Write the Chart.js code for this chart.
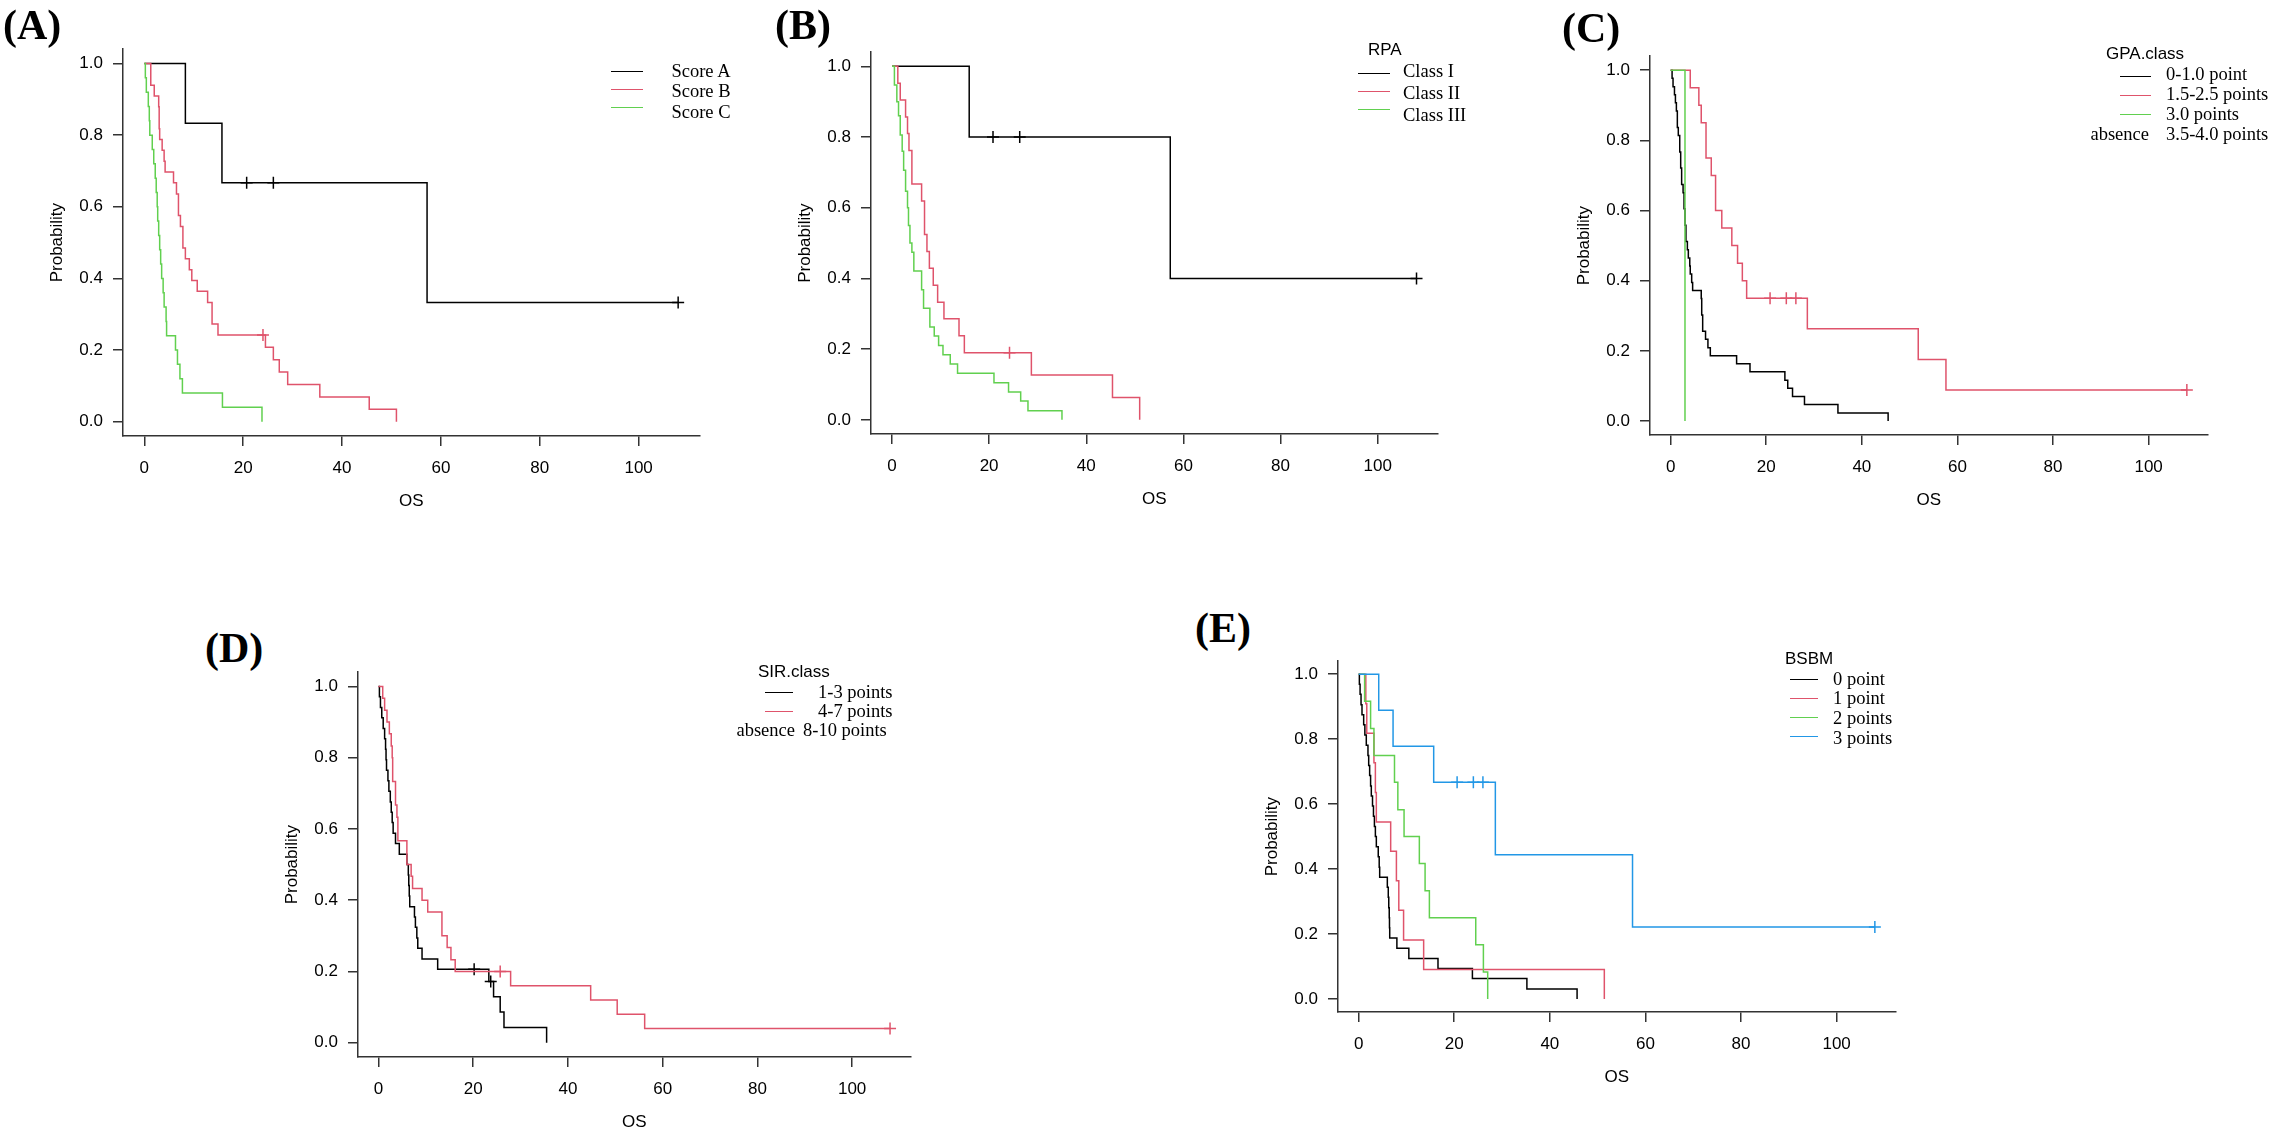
<!DOCTYPE html>
<html>
<head>
<meta charset="utf-8">
<script src="https://cdn.jsdelivr.net/npm/chart.js@4.4.1/dist/chart.umd.min.js"></script>
<style>
  body { margin: 0; background: #fff; width: 2278px; height: 1133px; position: relative; overflow: hidden; }
  canvas { position: absolute; }
  .lab { position: absolute; font: bold 42px/42px "Liberation Serif", serif; color: #000; }
  .leg { position: absolute; font: 18.5px/20px "Liberation Serif", serif; height: 20px; white-space: nowrap; color: #000; }
  .ttl { position: absolute; font: 17px/20px "Liberation Sans", sans-serif; height: 20px; white-space: nowrap; color: #000; }
  .ln { position: absolute; height: 0; border-top: 1.5px solid; }
</style>
</head>
<body>
<script>
// axes
const xTicks = [0, 20, 40, 60, 80, 100];
const yTicks = [0, 0.2, 0.4, 0.6, 0.8, 1.0];
const xLim = [-4.32, 112.32];
const yLim = [-0.04, 1.04];
const colors = ['#000000', '#DF536B', '#61D04F', '#2297E6'];

// (A) Score
const scoreNames = ['Score A', 'Score B', 'Score C'];
const scoreA_t = [8.3, 15.7, 57.2];
const scoreA_s = [0.833, 0.667, 0.333];
const scoreA_ct = [20.7, 26.1, 108];
const scoreA_cs = [0.667, 0.667, 0.333];
const scoreB_t = [1.3, 2.0, 2.9, 3.0, 3.1, 3.6, 4.0, 4.2, 5.9, 6.5, 6.9, 7.3, 7.8, 8.3, 9.1, 9.6, 10.7, 12.8, 13.7, 14.9, 24.5, 26.1, 27.3, 29.0, 35.5, 45.5, 51.0];
const scoreB_s = [0.939, 0.909, 0.879, 0.818, 0.788, 0.758, 0.727, 0.697, 0.667, 0.636, 0.576, 0.545, 0.485, 0.455, 0.424, 0.394, 0.364, 0.333, 0.273, 0.242, 0.208, 0.173, 0.139, 0.104, 0.069, 0.035, 0];
const scoreB_ct = [24.0];
const scoreB_cs = [0.242];
const scoreC_t = [0.2, 0.4, 0.8, 1.0, 1.1, 1.6, 1.9, 2.2, 2.4, 2.6, 2.7, 2.9, 3.1, 3.3, 3.5, 3.8, 4.0, 4.4, 4.5, 6.3, 6.7, 7.2, 7.7, 15.8, 23.8];
const scoreC_s = [0.96, 0.92, 0.88, 0.84, 0.80, 0.76, 0.72, 0.68, 0.64, 0.60, 0.56, 0.52, 0.48, 0.44, 0.40, 0.36, 0.32, 0.28, 0.24, 0.20, 0.16, 0.12, 0.08, 0.04, 0];

// (B) RPA
const rpaNames = ['Class I', 'Class II', 'Class III'];
const rpa1_t = [15.9, 57.3];
const rpa1_s = [0.8, 0.4];
const rpa1_ct = [20.8, 26.3, 108];
const rpa1_cs = [0.8, 0.8, 0.4];
const rpa2_t = [1.2, 1.7, 2.8, 3.2, 3.5, 4.1, 6.1, 6.7, 7.2, 7.7, 8.5, 9.4, 10.7, 13.8, 14.9, 28.7, 45.4, 51.0];
const rpa2_s = [0.952, 0.905, 0.857, 0.810, 0.762, 0.667, 0.619, 0.524, 0.476, 0.429, 0.381, 0.333, 0.286, 0.238, 0.190, 0.127, 0.063, 0];
const rpa2_ct = [24.2];
const rpa2_cs = [0.19];
const rpa3_t = [0.5, 1.0, 1.35, 1.7, 2.1, 2.4, 2.8, 3.2, 3.4, 3.7, 4.1, 4.5, 6.1, 6.5, 7.8, 8.7, 9.6, 10.5, 12.0, 13.5, 21.0, 24.0, 26.5, 28.0, 35.0];
const rpa3_s = [0.947, 0.9, 0.86, 0.806, 0.76, 0.706, 0.647, 0.6, 0.55, 0.5, 0.474, 0.421, 0.368, 0.316, 0.263, 0.237, 0.21, 0.184, 0.158, 0.132, 0.105, 0.079, 0.053, 0.026, 0];

// (C) GPA.class
const gpaNames = ['0-1.0 point', '1.5-2.5 points', '3.0 points', '3.5-4.0 points'];
const gpa1_t = [0.3, 0.5, 0.8, 1.0, 1.2, 1.4, 1.6, 1.9, 2.1, 2.3, 2.6, 2.8, 3.0, 3.2, 3.5, 3.7, 4.0, 4.1, 4.4, 4.6, 6.4, 6.5, 6.7, 7.3, 7.8, 8.3, 13.8, 16.6, 23.9, 24.5, 25.5, 28.0, 35.0, 45.5];
const gpa1_s = [0.977, 0.953, 0.93, 0.907, 0.884, 0.837, 0.814, 0.767, 0.721, 0.674, 0.651, 0.605, 0.558, 0.512, 0.488, 0.465, 0.442, 0.419, 0.395, 0.372, 0.349, 0.302, 0.256, 0.233, 0.209, 0.186, 0.163, 0.14, 0.116, 0.093, 0.07, 0.047, 0.023, 0];
const gpa2_t = [4.1, 5.9, 6.4, 7.4, 8.5, 9.4, 10.7, 12.8, 14.0, 15.0, 15.9, 28.6, 51.8, 57.6];
const gpa2_s = [0.95, 0.9, 0.85, 0.75, 0.7, 0.6, 0.55, 0.5, 0.45, 0.4, 0.35, 0.263, 0.175, 0.088];
const gpa2_ct = [20.8, 24.2, 26.2, 108];
const gpa2_cs = [0.35, 0.35, 0.35, 0.088];
const gpa3_t = [3.0];
const gpa3_s = [0];

// (D) SIR.class
const sirNames = ['1-3 points', '4-7 points', '8-10 points'];
const sir1_t = [0.2, 0.42, 0.7, 1.0, 1.3, 1.5, 1.6, 1.7, 2.0, 2.2, 2.5, 2.7, 2.9, 3.1, 3.6, 4.4, 6.0, 6.3, 6.4, 6.5, 6.6, 7.6, 7.8, 8.1, 8.3, 9.2, 12.5, 23.3, 24.3, 25.7, 26.5, 35.5];
const sir1_s = [0.971, 0.941, 0.912, 0.882, 0.853, 0.824, 0.794, 0.765, 0.735, 0.706, 0.676, 0.647, 0.618, 0.588, 0.559, 0.529, 0.5, 0.471, 0.441, 0.412, 0.382, 0.353, 0.324, 0.294, 0.265, 0.235, 0.206, 0.172, 0.129, 0.086, 0.043, 0];
const sir1_ct = [20.2, 23.7];
const sir1_cs = [0.206, 0.172];
const sir2_t = [0.9, 1.3, 1.8, 2.3, 2.7, 2.9, 3.0, 3.6, 3.9, 4.1, 6.0, 6.9, 7.2, 9.2, 10.4, 13.4, 14.5, 15.3, 16.2, 27.9, 44.8, 50.4, 56.2];
const sir2_s = [0.967, 0.933, 0.9, 0.867, 0.833, 0.8, 0.733, 0.667, 0.633, 0.567, 0.5, 0.467, 0.433, 0.4, 0.367, 0.3, 0.267, 0.233, 0.2, 0.16, 0.12, 0.08, 0.04];
const sir2_ct = [25.7, 108];
const sir2_cs = [0.2, 0.04];

// (E) BSBM
const bsbmNames = ['0 point', '1 point', '2 points', '3 points'];
const bsbm0_t = [0.15, 0.3, 0.5, 0.7, 1.05, 1.3, 1.6, 1.95, 2.1, 2.3, 2.5, 2.65, 2.9, 3.1, 3.3, 3.5, 3.7, 4.1, 4.3, 4.4, 6.0, 6.2, 6.3, 6.4, 6.45, 6.5, 8.0, 10.5, 16.6, 23.8, 35.2, 45.7];
const bsbm0_s = [0.969, 0.938, 0.906, 0.875, 0.844, 0.813, 0.781, 0.75, 0.719, 0.688, 0.656, 0.625, 0.594, 0.563, 0.531, 0.5, 0.469, 0.438, 0.406, 0.375, 0.344, 0.313, 0.281, 0.25, 0.219, 0.188, 0.156, 0.125, 0.094, 0.063, 0.031, 0];
const bsbm1_t = [1.5, 1.7, 3.2, 3.5, 3.7, 6.7, 7.9, 8.4, 9.4, 13.6, 51.4];
const bsbm1_s = [0.909, 0.818, 0.727, 0.636, 0.545, 0.455, 0.364, 0.273, 0.182, 0.091, 0];
const bsbm2_t = [1.25, 2.5, 3.2, 7.5, 8.2, 9.5, 12.7, 13.9, 14.8, 24.5, 26.1, 27.0];
const bsbm2_s = [0.917, 0.833, 0.75, 0.667, 0.583, 0.5, 0.417, 0.333, 0.25, 0.167, 0.083, 0];
const bsbm3_t = [4.2, 7.2, 15.7, 28.6, 57.3];
const bsbm3_s = [0.889, 0.778, 0.667, 0.444, 0.222];
const bsbm3_ct = [20.6, 24.0, 26.0, 108];
const bsbm3_cs = [0.667, 0.667, 0.667, 0.222];

Chart.defaults.font.family = '"Liberation Sans", Arial, sans-serif';
Chart.defaults.color = '#000';

const AXW = 76;   // width kept for the y axis
const AXH = 76;   // height kept for the x axis
const PAD = 6;
const axisColor = '#333';

// one km curve -> step line + censor crosses
function km(t, s, ct, cs, color, order) {
  ct = ct || [];
  cs = cs || [];
  const pts = [{ x: 0, y: 1 }];
  t.forEach((v, i) => pts.push({ x: v, y: s[i] }));
  if (ct.length && ct[ct.length - 1] > t[t.length - 1]) {
    pts.push({ x: ct[ct.length - 1], y: cs[cs.length - 1] });
  }
  const sets = [{
    data: pts, borderColor: color, borderWidth: 1.5, stepped: true,
    pointRadius: 0, fill: false, order: order
  }];
  if (ct.length) {
    sets.push({
      data: ct.map((v, i) => ({ x: v, y: cs[i] })), showLine: false,
      pointStyle: 'cross', pointRadius: 6, pointBorderColor: color,
      pointBorderWidth: 1.5, order: order
    });
  }
  return sets;
}

function panel(box, datasets) {
  const cv = document.createElement('canvas');
  cv.width = box.w + AXW + PAD;
  cv.height = box.h + AXH + PAD;
  cv.style.left = (box.x - AXW) + 'px';
  cv.style.top = (box.y - PAD) + 'px';
  document.body.appendChild(cv);
  const tickFont = { family: '"Liberation Sans", Arial, sans-serif', size: 17 };
  new Chart(cv, {
    type: 'line',
    data: { datasets },
    options: {
      responsive: false,
      animation: false,
      devicePixelRatio: 1,
      layout: { padding: { top: PAD, right: PAD, left: 0, bottom: 0 } },
      plugins: { legend: { display: false }, tooltip: { enabled: false } },
      scales: {
        x: {
          type: 'linear', min: xLim[0], max: xLim[1],
          afterBuildTicks: sc => { sc.ticks = xTicks.map(v => ({ value: v })); },
          afterFit: sc => { sc.height = AXH; },
          grid: { drawOnChartArea: false, drawTicks: true, tickLength: 10, color: axisColor, lineWidth: 1.5 },
          border: { display: true, color: axisColor, width: 1.5 },
          ticks: { font: tickFont, padding: 12, maxRotation: 0, autoSkip: false, callback: v => String(v) },
          title: { display: true, text: 'OS', font: tickFont, padding: 0 }
        },
        y: {
          type: 'linear', min: yLim[0], max: yLim[1],
          afterBuildTicks: sc => { sc.ticks = yTicks.map(v => ({ value: v })); },
          afterFit: sc => { sc.width = AXW; },
          grid: { drawOnChartArea: false, drawTicks: true, tickLength: 10, color: axisColor, lineWidth: 1.5 },
          border: { display: true, color: axisColor, width: 1.5 },
          ticks: { font: tickFont, padding: 10, autoSkip: false, callback: v => v.toFixed(1) },
          title: { display: true, text: 'Probability', font: tickFont, padding: 0 }
        }
      }
    }
  });
}

function text(str, x, y, cls, align) {
  const d = document.createElement('div');
  d.className = cls;
  d.textContent = str;
  d.style.left = x + 'px';
  d.style.top = (y - 10) + 'px';
  if (align === 'center') d.style.transform = 'translateX(-50%)';
  if (align === 'right') d.style.transform = 'translateX(-100%)';
  document.body.appendChild(d);
}
function line(x1, x2, y, color) {
  const d = document.createElement('div');
  d.className = 'ln';
  d.style.left = x1 + 'px';
  d.style.width = (x2 - x1) + 'px';
  d.style.top = y + 'px';
  d.style.borderTopColor = color;
  document.body.appendChild(d);
}
function label(str, x, y) {
  const d = document.createElement('div');
  d.className = 'lab';
  d.textContent = str;
  d.style.left = x + 'px';
  d.style.top = y + 'px';
  document.body.appendChild(d);
}

// (A)
panel({ x: 123, y: 35, w: 578, h: 401 }, [
  ...km(scoreA_t, scoreA_s, scoreA_ct, scoreA_cs, colors[0], 3),
  ...km(scoreB_t, scoreB_s, scoreB_ct, scoreB_cs, colors[1], 2),
  ...km(scoreC_t, scoreC_s, [], [], colors[2], 1)
]);
label('(A)', 3, 4);
[71, 89, 107].forEach((y, i) => line(611, 643, y, colors[i]));
[71, 91, 112].forEach((y, i) => text(scoreNames[i], 701, y, 'leg', 'center'));

// (B)
panel({ x: 871, y: 38, w: 568, h: 396 }, [
  ...km(rpa1_t, rpa1_s, rpa1_ct, rpa1_cs, colors[0], 3),
  ...km(rpa2_t, rpa2_s, rpa2_ct, rpa2_cs, colors[1], 2),
  ...km(rpa3_t, rpa3_s, [], [], colors[2], 1)
]);
label('(B)', 775, 4);
text('RPA', 1368, 50, 'ttl', 'left');
[73, 91, 109].forEach((y, i) => line(1358, 1390, y, colors[i]));
[71, 93, 115].forEach((y, i) => text(rpaNames[i], 1403, y, 'leg', 'left'));

// (C)
panel({ x: 1650, y: 42, w: 559, h: 393 }, [
  ...km(gpa1_t, gpa1_s, [], [], colors[0], 3),
  ...km(gpa2_t, gpa2_s, gpa2_ct, gpa2_cs, colors[1], 2),
  ...km(gpa3_t, gpa3_s, [], [], colors[2], 1)
]);
label('(C)', 1562, 7);
text('GPA.class', 2106, 54, 'ttl', 'left');
[76, 95, 114].forEach((y, i) => line(2120, 2151, y, colors[i]));
[74, 94, 114, 134].forEach((y, i) => text(gpaNames[i], 2166, y, 'leg', 'left'));
text('absence', 2149, 134, 'leg', 'right');

// (D)
panel({ x: 358, y: 658, w: 554, h: 399 }, [
  ...km(sir1_t, sir1_s, sir1_ct, sir1_cs, colors[0], 2),
  ...km(sir2_t, sir2_s, sir2_ct, sir2_cs, colors[1], 1)
]);
label('(D)', 205, 627);
text('SIR.class', 758, 672, 'ttl', 'left');
[692, 711].forEach((y, i) => line(765, 793, y, colors[i]));
text(sirNames[0], 818, 692, 'leg', 'left');
text(sirNames[1], 818, 711, 'leg', 'left');
text('absence', 795, 730, 'leg', 'right');
text(sirNames[2], 803, 730, 'leg', 'left');

// (E)
panel({ x: 1338, y: 647, w: 559, h: 365 }, [
  ...km(bsbm0_t, bsbm0_s, [], [], colors[0], 4),
  ...km(bsbm1_t, bsbm1_s, [], [], colors[1], 3),
  ...km(bsbm2_t, bsbm2_s, [], [], colors[2], 2),
  ...km(bsbm3_t, bsbm3_s, bsbm3_ct, bsbm3_cs, colors[3], 1)
]);
label('(E)', 1195, 607);
text('BSBM', 1785, 659, 'ttl', 'left');
[679, 698, 717, 736].forEach((y, i) => line(1790, 1818, y, colors[i]));
[679, 698, 718, 738].forEach((y, i) => text(bsbmNames[i], 1833, y, 'leg', 'left'));
</script>
</body>
</html>
